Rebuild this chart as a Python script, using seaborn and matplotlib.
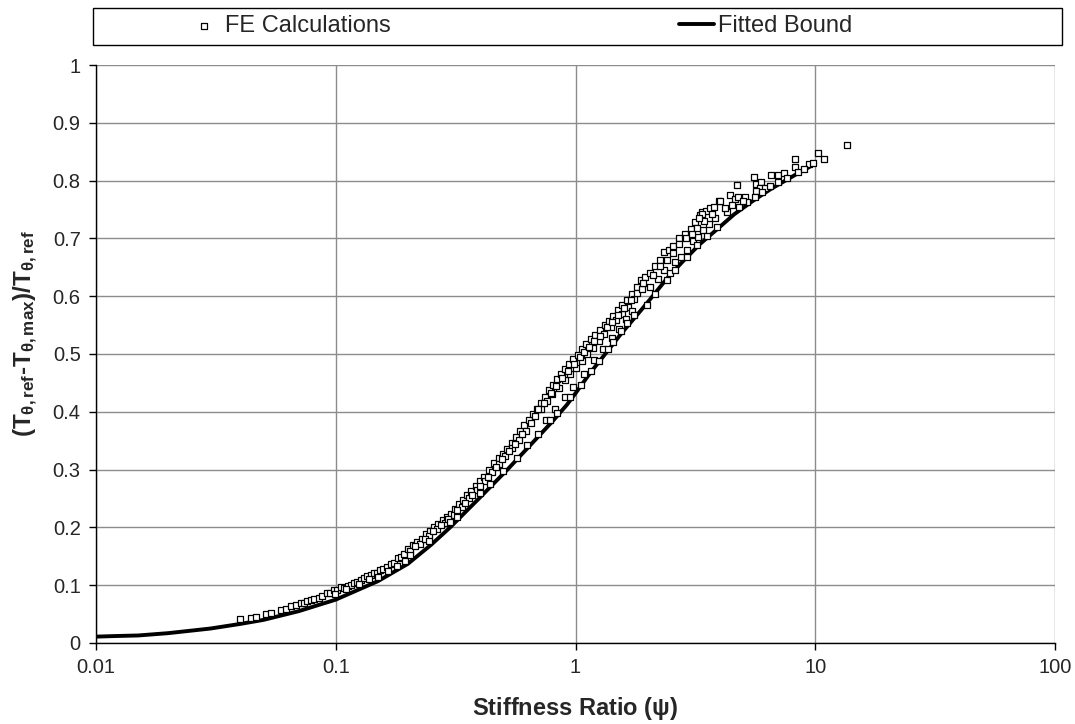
import matplotlib
matplotlib.use("Agg")
import matplotlib.pyplot as plt
import matplotlib.patches as mpatches
from matplotlib.ticker import FuncFormatter, FixedLocator, NullLocator
import pandas as pd
import seaborn as sns

# fitted lower bound curve
fit_psi = [0.01, 0.012, 0.015, 0.02, 0.03, 0.04, 0.05, 0.07, 0.1, 0.15, 0.2,
           0.25, 0.3, 0.4, 0.52, 0.64, 0.8, 0.92, 1.0, 1.15, 1.33, 1.55, 1.87,
           2.05, 2.4, 2.8, 3.3, 3.9, 4.6, 5.5, 6.5, 7.5, 8.5, 9.4, 10.0]
fit_ratio = [0.011, 0.012, 0.013, 0.017, 0.025, 0.033, 0.040, 0.055, 0.075,
             0.107, 0.137, 0.170, 0.200, 0.252, 0.300, 0.340, 0.383, 0.412,
             0.432, 0.467, 0.500, 0.535, 0.575, 0.595, 0.630, 0.660, 0.690,
             0.716, 0.742, 0.765, 0.785, 0.800, 0.813, 0.823, 0.830]

# FE results
fe_psi = [
    0.040, 0.0443, 0.0464, 0.0512, 0.0536, 0.059, 0.062, 0.065, 0.068, 0.0715,
    0.074, 0.076, 0.079, 0.081, 0.085, 0.088, 0.092, 0.095, 0.098, 0.101,
    0.105, 0.108, 0.112, 0.116, 0.119, 0.123, 0.127, 0.131, 0.135, 0.140,
    0.144, 0.149, 0.153, 0.158, 0.164, 0.170, 0.175, 0.181, 0.187, 0.193,
    0.099, 0.110, 0.125, 0.138, 0.150, 0.165, 0.180, 0.195,
    0.200, 0.210, 0.219, 0.228, 0.238, 0.247, 0.257, 0.268, 0.279, 0.290,
    0.302, 0.315, 0.327, 0.340, 0.354, 0.368, 0.384, 0.400, 0.416, 0.436,
    0.457, 0.478, 0.498, 0.519, 0.542, 0.565, 0.588, 0.612, 0.638,
    0.205, 0.225, 0.245, 0.265, 0.285, 0.31, 0.335, 0.36, 0.39, 0.42,
    0.45, 0.48, 0.51, 0.545, 0.58, 0.62,
    0.215, 0.235, 0.255, 0.275, 0.295, 0.32, 0.345, 0.37, 0.40, 0.43,
    0.465, 0.495, 0.53, 0.56, 0.60, 0.65,
    0.205, 0.245, 0.30, 0.32, 0.40, 0.44, 0.50, 0.57, 0.63,
    0.665, 0.69, 0.715, 0.745, 0.775, 0.805, 0.835, 0.87, 0.905, 0.94,
    0.98, 1.02, 1.065, 1.11, 1.16, 1.21, 1.27, 1.33, 1.38, 1.44,
    1.51, 1.57, 1.64, 1.72, 1.81,
    0.68, 0.72, 0.76, 0.80, 0.85, 0.90, 0.95, 1.00, 1.06, 1.12,
    1.18, 1.25, 1.32, 1.40, 1.48, 1.56, 1.66, 1.76,
    0.70, 0.74, 0.79, 0.83, 0.88, 0.93, 0.99, 1.04, 1.09, 1.14,
    1.20, 1.26, 1.35, 1.42, 1.50, 1.60, 1.70, 1.80,
    0.75, 0.82, 0.90, 0.98, 1.08, 1.20, 1.30, 1.42, 1.52, 1.62, 1.72,
    0.70, 0.78, 0.835, 0.95, 1.05, 1.16, 1.25, 1.36, 1.44, 1.55, 1.64, 1.75,
    1.87, 1.95, 2.05, 2.15, 2.26, 2.33, 2.45, 2.56, 2.7, 2.85,
    3.02, 3.15, 3.31, 3.36, 3.5, 3.65, 3.77, 3.95,
    1.9, 2.05, 2.2, 2.35, 2.49, 2.6, 2.75, 2.92, 3.1, 3.25, 3.41, 3.6, 3.8,
    1.92, 2.1, 2.25, 2.4, 2.55, 2.7, 2.9, 3.05, 3.2, 3.45, 3.7,
    1.99, 2.15, 2.41, 2.6, 2.92, 3.2, 3.54, 3.9,
    4.42, 4.02, 3.38, 3.27, 4.64, 4.78, 5.08, 4.72, 5.68, 5.96,
    5.9, 6.2, 5.68, 5.53, 6.55, 7.0, 7.4, 8.2, 8.2, 9.4,
    9.8, 10.3, 10.9, 13.6,
    4.3, 4.8, 5.2, 5.6, 6.0, 6.5, 7.0, 7.6, 8.5, 9.0, 4.5, 5.0, 4.2,
]
fe_ratio = [
    0.041, 0.044, 0.0455, 0.050, 0.052, 0.057, 0.059, 0.064, 0.066, 0.069,
    0.070, 0.073, 0.074, 0.076, 0.077, 0.081, 0.086, 0.087, 0.092, 0.091,
    0.097, 0.095, 0.099, 0.101, 0.104, 0.106, 0.109, 0.112, 0.116, 0.117,
    0.121, 0.121, 0.126, 0.128, 0.132, 0.137, 0.139, 0.147, 0.148, 0.154,
    0.085, 0.094, 0.102, 0.110, 0.114, 0.124, 0.133, 0.141,
    0.162, 0.169, 0.175, 0.180, 0.188, 0.194, 0.201, 0.206, 0.212, 0.218,
    0.224, 0.232, 0.240, 0.247, 0.256, 0.263, 0.272, 0.280, 0.288, 0.299,
    0.311, 0.320, 0.327, 0.336, 0.346, 0.357, 0.366, 0.378, 0.386,
    0.160, 0.172, 0.185, 0.197, 0.208, 0.222, 0.236, 0.250, 0.264, 0.280,
    0.296, 0.310, 0.324, 0.338, 0.352, 0.367,
    0.168, 0.180, 0.193, 0.204, 0.215, 0.230, 0.243, 0.256, 0.272, 0.287,
    0.304, 0.318, 0.332, 0.345, 0.362, 0.380,
    0.152, 0.176, 0.209, 0.218, 0.259, 0.275, 0.298, 0.320, 0.342,
    0.397, 0.405, 0.415, 0.425, 0.437, 0.446, 0.456, 0.465, 0.474, 0.482,
    0.491, 0.498, 0.508, 0.517, 0.526, 0.533, 0.542, 0.551, 0.557, 0.566,
    0.576, 0.584, 0.594, 0.604, 0.616,
    0.392, 0.404, 0.418, 0.430, 0.442, 0.455, 0.466, 0.476, 0.488, 0.500,
    0.510, 0.522, 0.534, 0.546, 0.558, 0.570, 0.582, 0.596,
    0.404, 0.416, 0.432, 0.444, 0.458, 0.470, 0.483, 0.494, 0.503, 0.512,
    0.522, 0.532, 0.547, 0.556, 0.568, 0.580, 0.594, 0.606,
    0.385, 0.404, 0.425, 0.443, 0.465, 0.490, 0.508, 0.527, 0.543, 0.560, 0.575,
    0.362, 0.385, 0.398, 0.425, 0.447, 0.470, 0.488, 0.508, 0.520, 0.540, 0.553, 0.568,
    0.628, 0.634, 0.641, 0.652, 0.663, 0.677, 0.680, 0.686, 0.700, 0.708,
    0.717, 0.728, 0.740, 0.745, 0.748, 0.752, 0.755, 0.764,
    0.612, 0.616, 0.630, 0.645, 0.640, 0.660, 0.668, 0.680, 0.695, 0.702, 0.715, 0.725, 0.735,
    0.622, 0.636, 0.652, 0.662, 0.674, 0.690, 0.700, 0.708, 0.718, 0.730, 0.742,
    0.585, 0.603, 0.628, 0.645, 0.668, 0.688, 0.705, 0.720,
    0.775, 0.764, 0.742, 0.736, 0.768, 0.772, 0.771, 0.792, 0.794, 0.798,
    0.788, 0.788, 0.782, 0.807, 0.810, 0.810, 0.814, 0.837, 0.823, 0.828,
    0.830, 0.847, 0.838, 0.861,
    0.745, 0.755, 0.763, 0.772, 0.780, 0.790, 0.797, 0.805, 0.815, 0.820, 0.758, 0.765, 0.752,
]

x_ticks = [0.01, 0.1, 1, 10, 100]
y_ticks = [0, 0.1, 0.2, 0.3, 0.4, 0.5, 0.6, 0.7, 0.8, 0.9, 1.0]

fe = pd.DataFrame({"psi": fe_psi, "ratio": fe_ratio})
fit = pd.DataFrame({"psi": fit_psi, "ratio": fit_ratio})

sns.set_style("white")
plt.rcParams["font.family"] = ["Liberation Sans", "DejaVu Sans"]
plt.rcParams["mathtext.fontset"] = "custom"
plt.rcParams["mathtext.rm"] = "Liberation Sans:bold"
plt.rcParams["mathtext.it"] = "Liberation Sans:bold"
plt.rcParams["mathtext.bf"] = "Liberation Sans:bold"

fig = plt.figure(figsize=(10.75, 7.24), dpi=100)
ax = fig.add_axes([0.0893, 0.1119, 0.8921, 0.7983])

ax.set_xscale("log")
sns.lineplot(data=fit, x="psi", y="ratio", ax=ax, color="black", lw=2.8,
             sort=False, label="Fitted Bound", legend=False, zorder=3)
sns.scatterplot(data=fe, x="psi", y="ratio", ax=ax, marker="s", s=13,
                facecolor="white", edgecolor="black", linewidth=0.9,
                label="FE Calculations", legend=False, zorder=4)

ax.set_xlim(0.01, 100)
ax.set_ylim(0, 1)
ax.xaxis.set_major_locator(FixedLocator(x_ticks))
ax.xaxis.set_minor_locator(NullLocator())
ax.yaxis.set_major_locator(FixedLocator(y_ticks))
ax.xaxis.set_major_formatter(FuncFormatter(lambda v, p: f"{v:g}"))
ax.yaxis.set_major_formatter(FuncFormatter(lambda v, p: f"{v:g}"))
ax.grid(True, color="#8c8c8c", lw=1)
ax.set_axisbelow(True)
for side in ["top", "right"]:
    ax.spines[side].set_visible(False)
for side in ["left", "bottom"]:
    ax.spines[side].set_color("black")
    ax.spines[side].set_linewidth(1)
ax.tick_params(axis="both", direction="out", length=5, width=1, color="black",
               labelsize=14.5, pad=6, bottom=True, left=True)

ax.set_xlabel(r"Stiffness Ratio ($\psi$)", fontsize=17, fontweight="bold",
              labelpad=13)
ax.set_ylabel(r"$(T_{\theta,ref}$-$T_{\theta,max})/T_{\theta,ref}$",
              fontsize=17.5, fontweight="bold")
ax.yaxis.set_label_coords(-0.058, 0.536)

# legend box across the top
fig.patches.append(mpatches.Rectangle((0.0865, 0.9378), 0.9014, 0.0511,
                                      transform=fig.transFigure, fill=False,
                                      edgecolor="black", lw=1))
handles, labels = ax.get_legend_handles_labels()
order = [labels.index("FE Calculations"), labels.index("Fitted Bound")]
fig.legend([handles[i] for i in order], [labels[i] for i in order],
           loc="center left", bbox_to_anchor=(0.1535, 0.9634), ncol=2,
           frameon=False, fontsize=17, columnspacing=12.2, handlelength=1.5,
           handletextpad=0.15, markerscale=1)

fig.savefig("out.png", dpi=100)
